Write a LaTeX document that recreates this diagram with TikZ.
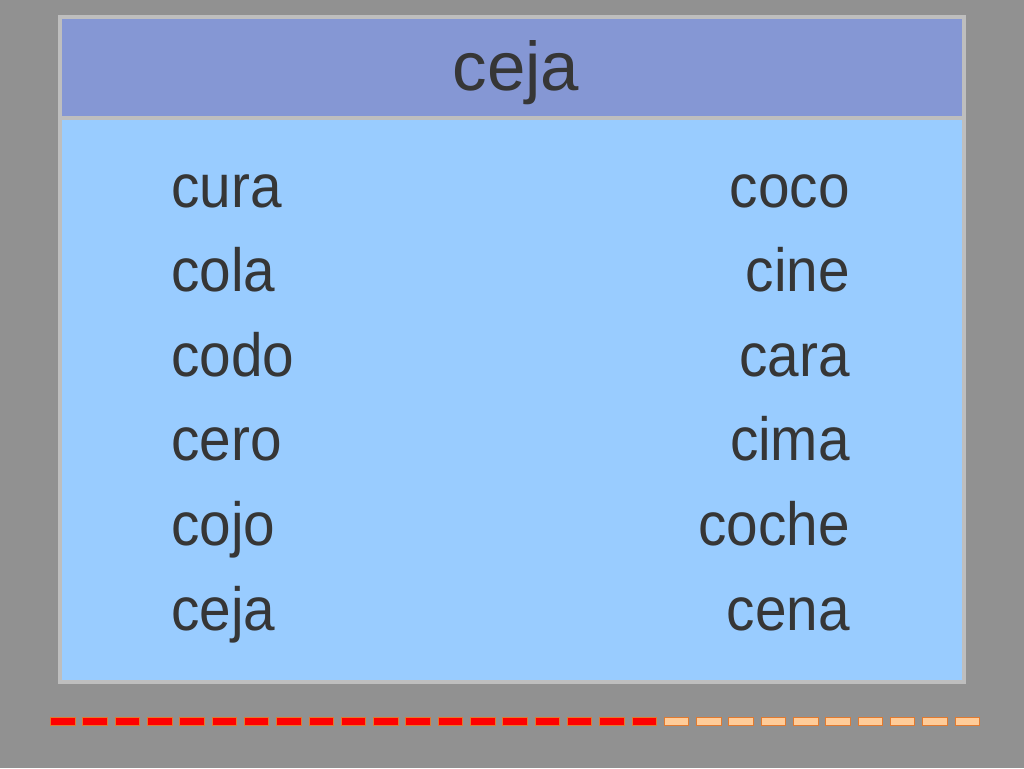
\documentclass[tikz,border=0pt]{standalone}
\usepackage{fontspec}
\setmainfont{Liberation Sans}
\newfontfamily\bodyfont[FakeStretch=0.93]{Liberation Sans}
\definecolor{bg}{HTML}{919191}
\definecolor{frame}{HTML}{BEBEBE}
\definecolor{head}{HTML}{8597D4}
\definecolor{body}{HTML}{99CCFF}
\definecolor{ink}{HTML}{363636}
\definecolor{dashred}{HTML}{FF0000}
\definecolor{dashlight}{HTML}{FFCC99}
\definecolor{dashedge}{HTML}{E07A30}
\begin{document}
\begin{tikzpicture}[x=1pt,y=-1pt,
  word/.style={inner sep=0pt,text=ink,font=\bodyfont\fontsize{61}{61}\selectfont},
  lword/.style={word,anchor=base west},
  rword/.style={word,anchor=base east},
  title/.style={inner sep=0pt,text=ink,anchor=base,font=\fontsize{69}{69}\selectfont},
  redbox/.style={fill=dashred,draw=dashedge,line width=0.8pt},
  lightbox/.style={fill=dashlight,draw=dashedge,line width=0.8pt}]
\useasboundingbox (0,0) rectangle (1024,768);
\fill[bg] (0,0) rectangle (1024,768);
% frame
\fill[frame] (57.5,15) rectangle (966,684);
\fill[head] (61.5,19) rectangle (962,116);
\fill[body] (61.5,119.5) rectangle (962,680);
\node[title] (t) at (516,90) {ceja};
% left column
\node[lword] (l1) at (171,207) {cura};
\node[lword] (l2) at (171,291.5) {cola};
\node[lword] (l3) at (171,376) {codo};
\node[lword] (l4) at (171,460) {cero};
\node[lword] (l5) at (171,545) {cojo};
\node[lword] (l6) at (171,630) {ceja};
% right column
\node[rword] (r1) at (850,207) {coco};
\node[rword] (r2) at (850,291.5) {cine};
\node[rword] (r3) at (850,376) {cara};
\node[rword] (r4) at (850,460) {cima};
\node[rword] (r5) at (850,545) {coche};
\node[rword] (r6) at (850,630) {cena};
% progress dashes
\foreach \i in {0,...,18}
  \draw[redbox] ({50.5+32.3*\i},717) rectangle ({75+32.3*\i},725);
\foreach \i in {19,...,28}
  \draw[lightbox] ({50.5+32.3*\i},717) rectangle ({75+32.3*\i},725);
\end{tikzpicture}
\end{document}
